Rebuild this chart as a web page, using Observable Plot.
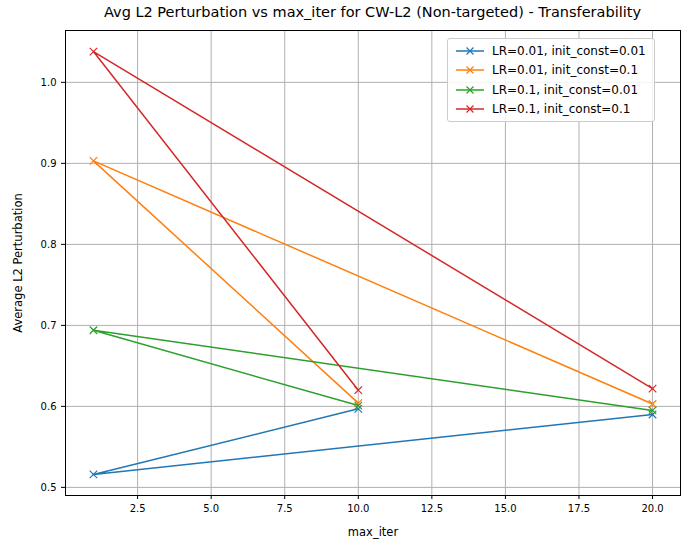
<!DOCTYPE html>
<html>
<head>
<meta charset="utf-8">
<script src="https://cdn.jsdelivr.net/npm/d3@7"></script>
<script src="https://cdn.jsdelivr.net/npm/@observablehq/plot@0.6"></script>
<style>
body { margin: 0; font-family: "DejaVu Sans", sans-serif; background: white; }
#wrap { position: relative; width: 691px; height: 545px; }
#title { position: absolute; top: 4px; left: 65px; width: 615px; text-align: center; font-size: 14.5px; }
#chart { position: absolute; top: 25px; left: 0; }
#legend { position: absolute; left: 447px; top: 38px; border: 1px solid #ccc; border-radius: 3px; background: rgba(255,255,255,0.85); padding: 2px 8px; font-size: 12px; }
#legend div { display: flex; align-items: center; height: 19.5px; }
#legend svg { margin-right: 8px; }
</style>
</head>
<body>
<div id="wrap">
  <div id="title">Avg L2 Perturbation vs max_iter for CW-L2 (Non-targeted) - Transferability</div>
  <div id="chart"></div>
  <div id="legend"></div>
</div>
<script>
// run order as plotted: 10, 1, 20
const maxIter = [10, 1, 20];
const seriesNames = ["LR=0.01, init_const=0.01", "LR=0.01, init_const=0.1", "LR=0.1, init_const=0.01", "LR=0.1, init_const=0.1"];
const colors = ["#1f77b4", "#ff7f0e", "#2ca02c", "#d62728"];
const lr001_ic001 = [0.597, 0.516, 0.590];
const lr001_ic01 = [0.604, 0.903, 0.603];
const lr01_ic001 = [0.601, 0.694, 0.595];
const lr01_ic01 = [0.620, 1.038, 0.622];
const xTicks = [2.5, 5.0, 7.5, 10.0, 12.5, 15.0, 17.5, 20.0];
const yTicks = [0.5, 0.6, 0.7, 0.8, 0.9, 1.0];

const allSeries = [lr001_ic001, lr001_ic01, lr01_ic001, lr01_ic01];
const data = allSeries.flatMap((vals, i) => vals.map((v, j) => ({s: seriesNames[i], x: maxIter[j], y: v})));

const chart = Plot.plot({
  width: 691, height: 520,
  marginLeft: 65, marginRight: 11, marginTop: 5, marginBottom: 50,
  style: {fontFamily: "DejaVu Sans, sans-serif", fontSize: "10px"},
  x: {domain: [0.05, 20.95], ticks: xTicks, tickFormat: ".1f", label: "max_iter", labelArrow: "none", labelAnchor: "center", labelOffset: 40, tickSize: 4},
  y: {domain: [0.49, 1.064], ticks: yTicks, tickFormat: ".1f", label: "Average L2 Perturbation", labelArrow: "none", labelAnchor: "center", labelOffset: 52, tickSize: 4},
  color: {domain: seriesNames, range: colors},
  marks: [
    Plot.gridX(xTicks, {stroke: "#b0b0b0", strokeOpacity: 1}),
    Plot.gridY(yTicks, {stroke: "#b0b0b0", strokeOpacity: 1}),
    Plot.frame({stroke: "black"}),
    Plot.line(data, {x: "x", y: "y", z: "s", stroke: "s", strokeWidth: 1.5}),
    Plot.dot(data, {x: "x", y: "y", stroke: "s", symbol: "times", r: 3.5, strokeWidth: 1.2})
  ]
});
d3.select("#chart").append(() => chart);
d3.selectAll("#chart text").style("font-size", "10px");
d3.selectAll("#chart [aria-label$='axis label'] text").style("font-size", "11.5px").style("fill", "black")
  .text(function() { return this.textContent.replace(/\s*[^\x20-\x7E]+.*$/, ""); });

const lg = d3.select("#legend");
seriesNames.forEach((n, i) => {
  const row = lg.append("div");
  const s = row.append("svg").attr("width", 28).attr("height", 12);
  s.append("line").attr("x1", 0).attr("x2", 28).attr("y1", 6).attr("y2", 6).attr("stroke", colors[i]).attr("stroke-width", 1.5);
  s.append("path").attr("d", "M10.5,2.5L17.5,9.5M17.5,2.5L10.5,9.5").attr("stroke", colors[i]).attr("stroke-width", 1.2);
  row.append("span").text(n);
});
</script>
</body>
</html>
